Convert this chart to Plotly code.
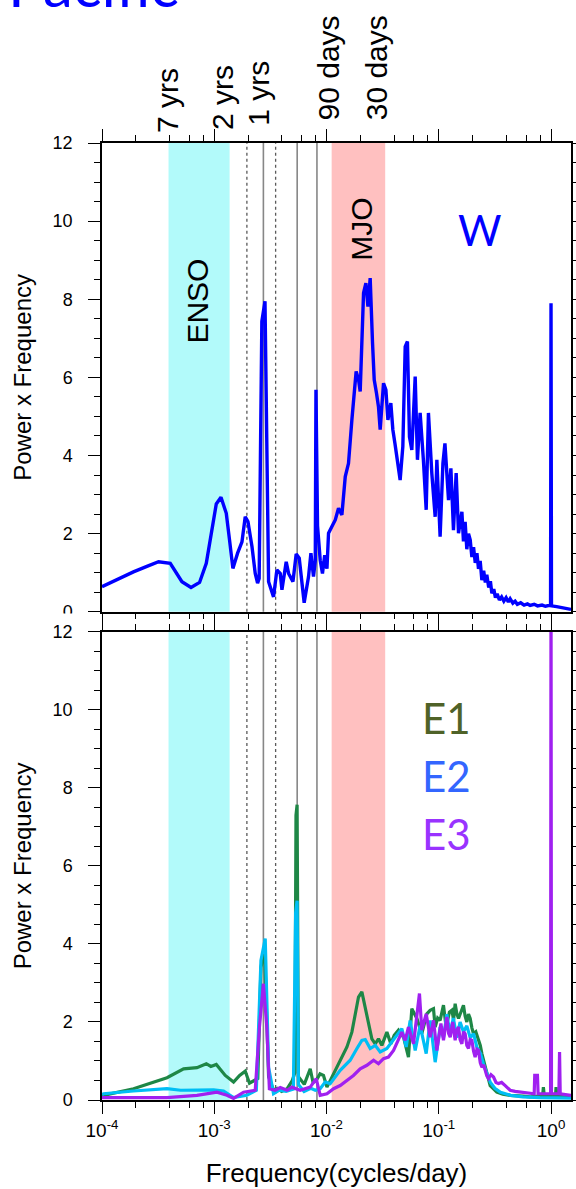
import numpy as np
import plotly.graph_objects as go

# ---------------- data ----------------
# log10(frequency, cycles/day) and Power x Frequency values
w_logf = [-4.000, -3.986, -3.850, -3.720, -3.600, -3.496, -3.392, -3.288, -3.207, -3.131,
          -3.071, -3.020, -2.982, -2.940, -2.893, -2.864, -2.834, -2.792, -2.753, -2.724,
          -2.700, -2.664, -2.635, -2.614, -2.600, -2.576, -2.548, -2.516, -2.472, -2.442,
          -2.412, -2.397, -2.359, -2.338, -2.299, -2.270, -2.243, -2.199, -2.160, -2.139,
          -2.116, -2.100, -2.094, -2.080, -2.056, -2.036, -2.016, -1.996, -1.982, -1.952,
          -1.922, -1.893, -1.863, -1.833, -1.804, -1.774, -1.736, -1.715, -1.700, -1.670,
          -1.649, -1.631, -1.611, -1.590, -1.575, -1.555, -1.537, -1.522, -1.492, -1.471,
          -1.453, -1.427, -1.409, -1.390, -1.373, -1.355, -1.344, -1.320, -1.299, -1.279,
          -1.261, -1.240, -1.210, -1.190, -1.166, -1.137, -1.112, -1.092, -1.062, -1.032,
          -1.017, -0.988, -0.963, -0.945, -0.913, -0.892, -0.869, -0.845, -0.824, -0.794,
          -0.780, -0.765, -0.750, -0.735, -0.720, -0.705, -0.690, -0.675, -0.660, -0.646,
          -0.631, -0.616, -0.600, -0.585, -0.572, -0.555, -0.540, -0.527, -0.510, -0.495,
          -0.480, -0.460, -0.440, -0.420, -0.400, -0.380, -0.364, -0.340, -0.320, -0.300,
          -0.270, -0.240, -0.210, -0.186, -0.150, -0.120, -0.080, -0.050, -0.020, -0.004,
          0.000, 0.004, 0.050, 0.100, 0.140, 0.178]
w_val = [0.64, 0.66, 0.85, 1.02, 1.16, 1.28, 1.24, 0.77, 0.62, 0.75,
         1.24, 2.18, 2.76, 2.93, 2.52, 1.84, 1.11, 1.50, 1.79, 2.43,
         2.31, 1.67, 0.98, 0.73, 0.85, 7.43, 7.95, 0.77, 0.38, 1.07,
         0.98, 0.56, 1.28, 0.98, 0.77, 1.48, 1.37, 0.23, 0.90, 1.50,
         0.90, 1.30, 5.68, 2.20, 1.32, 0.98, 1.45, 1.10, 2.01, 2.18,
         2.35, 2.65, 2.48, 3.46, 3.80, 4.91, 6.15, 5.95, 5.64, 8.16,
         8.41, 7.81, 8.54, 6.88, 5.94, 5.60, 5.25, 4.66, 5.85, 5.68,
         4.91, 5.34, 4.66, 4.30, 3.89, 3.60, 3.37, 4.23, 6.79, 6.92,
         4.48, 4.14, 6.02, 3.89, 5.09, 3.89, 2.61, 5.09, 3.55, 2.43,
         3.89, 1.92, 3.80, 4.31, 2.86, 3.67, 2.09, 3.55, 2.01, 2.56,
         1.80, 2.30, 1.60, 2.00, 1.84, 1.40, 1.65, 1.25, 1.50, 1.10,
         1.30, 0.81, 1.05, 0.75, 0.95, 0.62, 0.78, 0.47, 0.58, 0.36,
         0.46, 0.30, 0.38, 0.27, 0.36, 0.25, 0.33, 0.22, 0.27, 0.19,
         0.23, 0.17, 0.20, 0.16, 0.19, 0.15, 0.17, 0.14, 0.17, 0.17,
         7.90, 0.15, 0.13, 0.10, 0.08, 0.06]

e1_logf = [-4.000, -3.986, -3.719, -3.421, -3.273, -3.154, -3.071, -3.030, -2.982, -2.902,
           -2.828, -2.774, -2.724, -2.686, -2.644, -2.612, -2.584, -2.552, -2.516, -2.472,
           -2.440, -2.400, -2.350, -2.305, -2.282, -2.272, -2.262, -2.250, -2.198, -2.145,
           -2.120, -2.092, -2.058, -2.027, -1.996, -1.937, -1.878, -1.818, -1.774, -1.744,
           -1.715, -1.685, -1.655, -1.626, -1.596, -1.566, -1.537, -1.507, -1.462, -1.427,
           -1.397, -1.359, -1.314, -1.270, -1.240, -1.195, -1.151, -1.106, -1.077, -1.047,
           -1.032, -1.010, -0.988, -0.958, -0.940, -0.928, -0.905, -0.883, -0.868, -0.854,
           -0.838, -0.824, -0.800, -0.780, -0.765, -0.750, -0.735, -0.720, -0.705, -0.691,
           -0.670, -0.646, -0.630, -0.616, -0.600, -0.587, -0.565, -0.542, -0.510, -0.483,
           -0.430, -0.364, -0.250, -0.186, -0.100, -0.075, -0.068, -0.060, 0.000, 0.040,
           0.045, 0.052, 0.178]
e1_val = [0.10, 0.12, 0.29, 0.57, 0.80, 0.83, 0.93, 0.86, 0.91, 0.63,
          0.46, 0.63, 0.74, 0.43, 0.50, 0.55, 3.40, 3.90, 0.60, 0.25,
          0.30, 0.22, 0.29, 0.50, 0.70, 7.30, 7.57, 0.60, 0.40, 0.80,
          0.45, 0.50, 0.67, 0.63, 0.33, 0.67, 1.02, 1.36, 1.74, 2.21,
          2.64, 2.77, 2.38, 2.00, 1.57, 1.44, 1.57, 1.40, 1.74, 1.44,
          1.66, 1.79, 1.61, 1.10, 2.34, 2.09, 1.70, 2.21, 2.30, 2.34,
          1.87, 2.10, 2.04, 2.43, 2.00, 1.96, 2.25, 2.30, 2.05, 2.47,
          2.20, 2.09, 2.30, 2.43, 2.15, 2.00, 2.20, 2.09, 1.85, 1.70,
          1.75, 1.53, 1.40, 1.19, 1.00, 0.84, 0.60, 0.37, 0.28, 0.20,
          0.15, 0.12, 0.10, 0.08, 0.10, 0.10, 0.33, 0.10, 0.10, 0.10,
          0.33, 0.10, 0.08]

e2_logf = [-4.000, -3.986, -3.720, -3.421, -3.300, -3.125, -3.006, -2.917, -2.828, -2.710,
           -2.625, -2.584, -2.546, -2.516, -2.472, -2.420, -2.360, -2.295, -2.275, -2.262,
           -2.250, -2.200, -2.140, -2.100, -2.056, -2.012, -1.967, -1.878, -1.789, -1.729,
           -1.685, -1.655, -1.611, -1.566, -1.522, -1.462, -1.418, -1.373, -1.329, -1.290,
           -1.255, -1.210, -1.166, -1.112, -1.077, -1.032, -0.988, -0.958, -0.928, -0.900,
           -0.870, -0.840, -0.810, -0.780, -0.750, -0.720, -0.690, -0.660, -0.630, -0.600,
           -0.570, -0.540, -0.500, -0.450, -0.360, -0.250, -0.100, 0.000, 0.178]
e2_val = [0.14, 0.16, 0.23, 0.29, 0.25, 0.25, 0.26, 0.23, 0.06, 0.12,
          0.25, 3.58, 4.14, 0.84, 0.16, 0.25, 0.22, 0.28, 4.80, 5.11,
          0.40, 0.22, 0.30, 0.25, 0.29, 0.46, 0.42, 0.76, 1.02, 1.32,
          1.53, 1.55, 1.32, 1.40, 1.23, 1.32, 1.49, 1.66, 1.83, 1.36,
          2.04, 1.27, 1.91, 1.19, 2.04, 0.97, 1.87, 1.60, 2.20, 1.70,
          2.10, 1.60, 2.00, 1.75, 1.90, 1.60, 1.70, 1.35, 1.20, 0.90,
          0.65, 0.45, 0.30, 0.20, 0.12, 0.08, 0.06, 0.06, 0.05]

e3_logf = [-4.000, -3.421, -3.154, -2.976, -2.887, -2.828, -2.739, -2.635, -2.597, -2.562,
           -2.532, -2.509, -2.458, -2.412, -2.350, -2.309, -2.235, -2.145, -2.092, -2.070,
           -2.056, -1.996, -1.937, -1.878, -1.818, -1.760, -1.700, -1.640, -1.581, -1.537,
           -1.492, -1.448, -1.403, -1.359, -1.329, -1.299, -1.270, -1.225, -1.195, -1.172,
           -1.151, -1.112, -1.077, -1.047, -1.017, -0.981, -0.958, -0.928, -0.912, -0.898,
           -0.876, -0.865, -0.854, -0.840, -0.824, -0.810, -0.794, -0.780, -0.765, -0.750,
           -0.735, -0.720, -0.705, -0.690, -0.676, -0.660, -0.646, -0.630, -0.616, -0.600,
           -0.587, -0.572, -0.557, -0.535, -0.512, -0.490, -0.468, -0.440, -0.408, -0.385,
           -0.364, -0.320, -0.275, -0.230, -0.186, -0.150, -0.145, -0.121, -0.115, -0.050,
           -0.004, 0.000, 0.004, 0.070, 0.076, 0.082, 0.178]
e3_val = [0.06, 0.06, 0.12, 0.20, 0.12, 0.04, 0.20, 0.25, 1.88, 2.98,
          1.88, 0.29, 0.25, 0.32, 0.25, 0.33, 0.25, 0.33, 0.55, 0.25,
          0.12, 0.16, 0.29, 0.37, 0.50, 0.63, 0.80, 0.89, 1.02, 0.93,
          1.06, 1.10, 1.27, 1.57, 1.74, 1.53, 1.87, 1.44, 2.09, 2.73,
          1.79, 2.21, 1.61, 2.04, 1.27, 1.96, 1.53, 2.13, 1.70, 1.61,
          2.00, 1.70, 1.53, 1.80, 1.87, 1.55, 1.44, 1.75, 1.70, 1.40,
          1.32, 1.55, 1.53, 1.25, 1.10, 1.30, 1.27, 0.95, 0.84, 0.90,
          0.76, 0.62, 0.55, 0.65, 0.59, 0.45, 0.42, 0.45, 0.37, 0.30,
          0.25, 0.22, 0.20, 0.18, 0.16, 0.16, 0.63, 0.63, 0.16, 0.16,
          0.16, 14.00, 0.16, 0.16, 1.23, 0.16, 0.12]

# bands and reference periods (cycles/day)
enso_band = [1 / (7 * 365), 1 / (2 * 365)]
mjo_band = [1 / 90, 1 / 30]
solid_periods = [1 / 365, 2 / 365, 3 / 365]
dotted_periods = [1 / 512, 1 / 284]

top_labels = ["7 yrs", "2 yrs", "1 yrs", "90 days", "30 days"]
top_label_logx = [-3.417, -2.926, -2.608, -1.978, -1.552]
top_label_bottom_px = [135, 132, 128, 122, 122]

x_tickvals = [1e-4, 1e-3, 1e-2, 1e-1, 1]
x_ticktext = ["10<sup>-4</sup>", "10<sup>-3</sup>", "10<sup>-2</sup>", "10<sup>-1</sup>", "10<sup>0</sup>"]
x_minor = [m * 10.0 ** e for e in range(-4, 1) for m in (2, 4, 6, 8) if m * 10.0 ** e < 1.5]
y_tickvals = [0, 2, 4, 6, 8, 10, 12]

# ---------------- figure ----------------
W, H = 576, 1189
ML, MR, MT, MB = 102, 5, 143, 89
plot_h = H - MT - MB
top_dom = [0.5102, 1.0]
bot_dom = [0.0, 0.4891]

FONT = "Liberation Sans, Arial, Helvetica, sans-serif"
BLUE = "rgb(0,0,255)"
GREEN = "rgb(30,135,70)"
CYAN = "rgb(0,190,245)"
PURPLE = "rgb(160,32,240)"

fig = go.Figure()

def lg(v):
    return [10 ** a for a in v]

fig.add_trace(go.Scatter(x=lg(w_logf), y=w_val, mode="lines", line=dict(color=BLUE, width=3.4),
                         xaxis="x", yaxis="y", showlegend=False))
fig.add_trace(go.Scatter(x=lg(e1_logf), y=e1_val, mode="lines", line=dict(color=GREEN, width=3.2),
                         xaxis="x2", yaxis="y2", showlegend=False))
fig.add_trace(go.Scatter(x=lg(e2_logf), y=e2_val, mode="lines", line=dict(color=CYAN, width=3.2),
                         xaxis="x2", yaxis="y2", showlegend=False))
fig.add_trace(go.Scatter(x=lg(e3_logf), y=e3_val, mode="lines", line=dict(color=PURPLE, width=3.2),
                         xaxis="x2", yaxis="y2", showlegend=False))

shapes = []
for xr, yr in (("x", "y domain"), ("x2", "y2 domain")):
    shapes.append(dict(type="rect", xref=xr, yref=yr, x0=enso_band[0], x1=enso_band[1], y0=0, y1=1,
                       fillcolor="rgb(178,250,250)", line=dict(width=0), layer="below"))
    shapes.append(dict(type="rect", xref=xr, yref=yr, x0=mjo_band[0], x1=mjo_band[1], y0=0, y1=1,
                       fillcolor="rgb(255,192,192)", line=dict(width=0), layer="below"))
    for p in solid_periods:
        shapes.append(dict(type="line", xref=xr, yref=yr, x0=p, x1=p, y0=0, y1=1,
                           line=dict(color="rgb(135,135,135)", width=1.6), layer="below"))
    for p in dotted_periods:
        shapes.append(dict(type="line", xref=xr, yref=yr, x0=p, x1=p, y0=0, y1=1,
                           line=dict(color="rgb(90,90,90)", width=1.3, dash="dot"), layer="below"))

def px2paper_x(px):
    return (px - ML) / (W - ML - MR)

def px2paper_y(py):
    return (H - MB - py) / plot_h

# white patch hiding lower half of the top panel's "0" label (overlapped by lower panel)
shapes.append(dict(type="rect", xref="paper", yref="paper",
                   x0=px2paper_x(40), x1=px2paper_x(86), y0=px2paper_y(624), y1=px2paper_y(613.5),
                   fillcolor="white", line=dict(width=0), layer="above"))

annotations = []
for txt, lx, bpx in zip(top_labels, top_label_logx, top_label_bottom_px):
    annotations.append(dict(text=txt, xref="x", yref="paper", x=lx, y=px2paper_y(bpx),
                            xanchor="center", yanchor="bottom", textangle=-90, showarrow=False,
                            font=dict(family=FONT, size=30, color="black")))

annotations += [
    dict(text="ENSO", xref="x", yref="y", x=-3.147, y=7.96, textangle=-90, showarrow=False,
         font=dict(family=FONT, size=30, color="black")),
    dict(text="MJO", xref="x", yref="y", x=-1.685, y=9.8, textangle=-90, showarrow=False,
         font=dict(family=FONT, size=30, color="black")),
    dict(text="W", xref="x", yref="y", x=-0.631, y=9.78, showarrow=False,
         font=dict(family="Lato, sans-serif", size=42, color=BLUE)),
    dict(text="E1", xref="x2", yref="y2", x=-0.934, y=9.79, showarrow=False,
         font=dict(family="Lato, sans-serif", size=42, color="rgb(79,98,40)")),
    dict(text="E2", xref="x2", yref="y2", x=-0.934, y=8.30, showarrow=False,
         font=dict(family="Lato, sans-serif", size=42, color="rgb(51,102,255)")),
    dict(text="E3", xref="x2", yref="y2", x=-0.934, y=6.81, showarrow=False,
         font=dict(family="Lato, sans-serif", size=42, color="rgb(153,51,255)")),
    dict(text="Pacific", xref="paper", yref="paper", x=px2paper_x(6), y=px2paper_y(22),
         xanchor="left", yanchor="bottom", showarrow=False,
         font=dict(family="Lato, sans-serif", size=60, color=BLUE)),
]

xcommon = dict(type="log", range=[-4, 0.178], showgrid=False, zeroline=False, automargin=False,
               showline=True, linecolor="black", linewidth=1.5, mirror="allticks",
               ticks="outside", ticklen=12, tickwidth=1.3, tickcolor="black",
               tickmode="array", tickvals=x_tickvals,
               minor=dict(tickmode="array", tickvals=x_minor, ticks="outside", ticklen=6,
                          tickwidth=1.2, tickcolor="black", showgrid=False))
ycommon = dict(range=[0, 12], showgrid=False, zeroline=False, automargin=False,
               showline=True, linecolor="black", linewidth=1.5, mirror="allticks",
               ticks="outside", ticklen=12, tickwidth=1.3, tickcolor="black",
               tickmode="array", tickvals=y_tickvals,
               tickfont=dict(family=FONT, size=18, color="black"), ticklabelstandoff=12,
               minor=dict(dtick=0.5, ticks="outside", ticklen=6, tickwidth=1.2,
                          tickcolor="black", showgrid=False),
               title=dict(text="Power x Frequency", font=dict(family=FONT, size=24, color="black"),
                          standoff=14))

fig.update_layout(
    width=W, height=H, autosize=False,
    margin=dict(l=ML, r=MR, t=MT, b=MB, pad=0),
    paper_bgcolor="white", plot_bgcolor="white",
    font=dict(family=FONT, color="black"),
    showlegend=False,
    xaxis=dict(xcommon, domain=[0, 1], anchor="y", showticklabels=False),
    yaxis=dict(ycommon, domain=top_dom, anchor="x"),
    xaxis2=dict(xcommon, domain=[0, 1], anchor="y2", showticklabels=True,
                ticktext=x_ticktext, tickfont=dict(family=FONT, size=19, color="black"),
                title=dict(text="Frequency(cycles/day)", font=dict(family=FONT, size=26, color="black"),
                           standoff=24)),
    yaxis2=dict(ycommon, domain=bot_dom, anchor="x2"),
    shapes=shapes,
    annotations=annotations,
)

fig.write_html("out.html")
